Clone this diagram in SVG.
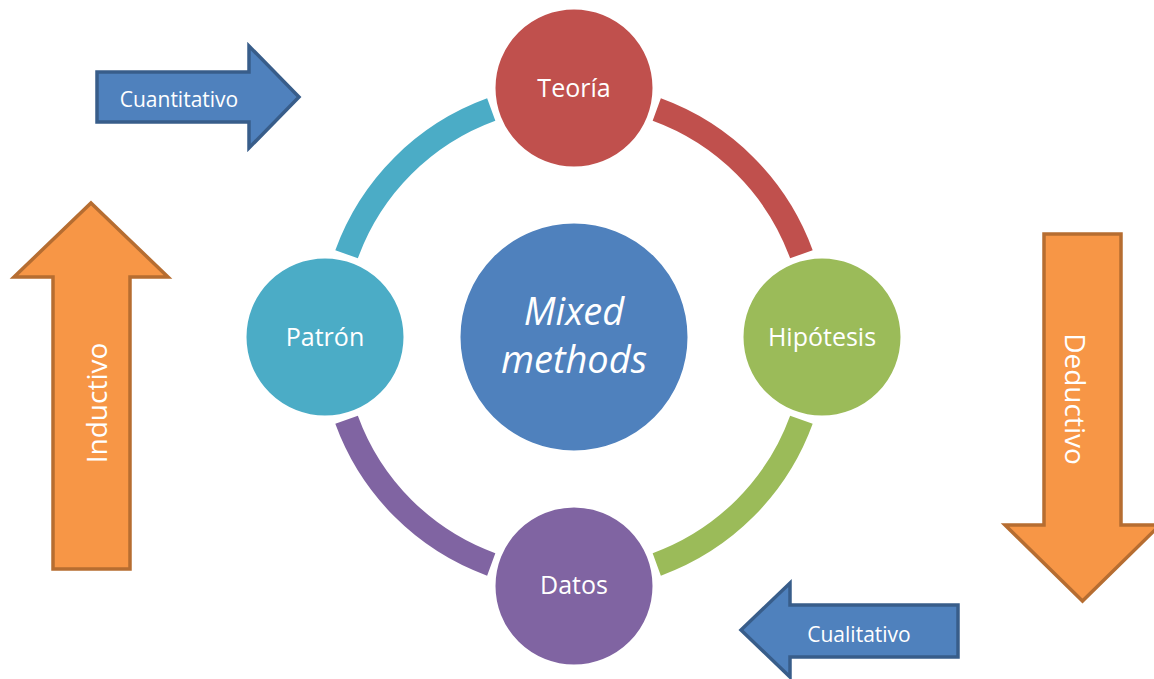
<svg xmlns="http://www.w3.org/2000/svg" width="1154" height="679" viewBox="0 0 1154 679">
  <style>
    .lbl { font-family: "Open Sans", "Noto Sans", "Liberation Sans", sans-serif; fill: #ffffff; text-anchor: middle; }
    .node { stroke: #ffffff; stroke-width: 3; }
    .ring { fill: none; stroke-width: 24; stroke-linecap: butt; }
    .blue-arrow { fill: #4f81bd; stroke: #385d8a; stroke-width: 3.5; }
    .orange-arrow { fill: #f79646; stroke: #b66d31; stroke-width: 3.5; }
  </style>
  <rect width="1154" height="679" fill="#ffffff"/>

  <!-- cycle connectors: ring segments around the centre (574,337), r=242 -->
  <g id="connectors">
    <path class="ring" stroke="#c0504d" d="M656.77,109.59 A242,242 0 0 1 801.41,254.23"/>
    <path class="ring" stroke="#9bbb59" d="M801.41,419.77 A242,242 0 0 1 656.77,564.41"/>
    <path class="ring" stroke="#8064a2" d="M491.23,564.41 A242,242 0 0 1 346.59,419.77"/>
    <path class="ring" stroke="#4bacc6" d="M346.59,254.23 A242,242 0 0 1 491.23,109.59"/>
  </g>

  <g id="mixed-methods">
    <circle class="node" cx="574" cy="337" r="115" fill="#4f81bd"/>
    <text class="lbl" x="574" y="325" font-size="38" font-style="italic">Mixed</text>
    <text class="lbl" x="574" y="373" font-size="38" font-style="italic">methods</text>
  </g>

  <g id="teoria">
    <circle class="node" cx="574" cy="88" r="80" fill="#c0504d"/>
    <text class="lbl" x="574" y="97" font-size="25">Teoría</text>
  </g>

  <g id="hipotesis">
    <circle class="node" cx="822" cy="337" r="80" fill="#9bbb59"/>
    <text class="lbl" x="822" y="346" font-size="25">Hipótesis</text>
  </g>

  <g id="datos">
    <circle class="node" cx="574" cy="586" r="80" fill="#8064a2"/>
    <text class="lbl" x="574" y="594" font-size="25">Datos</text>
  </g>

  <g id="patron">
    <circle class="node" cx="325" cy="337" r="80" fill="#4bacc6"/>
    <text class="lbl" x="325" y="346" font-size="25">Patrón</text>
  </g>

  <g id="cuantitativo">
    <path class="blue-arrow" d="M97,72 L249,72 L249,46 L299,97 L249,148 L249,122 L97,122 Z"/>
    <text class="lbl" x="179" y="107" font-size="21">Cuantitativo</text>
  </g>

  <g id="cualitativo">
    <path class="blue-arrow" d="M958,605 L790,605 L790,583 L741,630 L790,677 L790,657 L958,657 Z"/>
    <text class="lbl" x="859" y="642" font-size="21">Cualitativo</text>
  </g>

  <g id="inductivo">
    <path class="orange-arrow" d="M91,203 L168,277 L130,277 L130,569 L53,569 L53,277 L14,277 Z"/>
    <text class="lbl" font-size="28" transform="translate(107,403) rotate(-90)">Inductivo</text>
  </g>

  <g id="deductivo">
    <path class="orange-arrow" d="M1044,234 L1121,234 L1121,525 L1160,525 L1082.5,601 L1005,525 L1044,525 Z"/>
    <text class="lbl" font-size="28" transform="translate(1065,399) rotate(90)">Deductivo</text>
  </g>
</svg>
